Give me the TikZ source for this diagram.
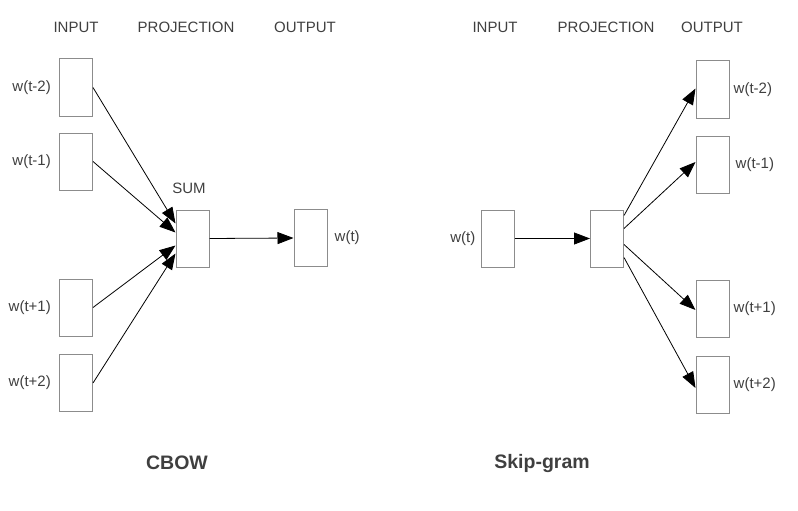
\documentclass[tikz,border=0pt]{standalone}
\usepackage{fontspec}
\setmainfont{Liberation Sans}
\usepackage{tikz}
\usetikzlibrary{arrows.meta,positioning,calc}
\definecolor{boxgray}{HTML}{8C8C8C}
\definecolor{textgray}{HTML}{3F3F3F}

\begin{document}
\begin{tikzpicture}[
  x=1pt,y=-1pt,
  every node/.style={font=\fontsize{15}{18}\selectfont,text=textgray},
  box/.style={draw=boxgray,line width=1pt,minimum width=33pt,minimum height=57pt,inner sep=0pt},
  lbl/.style={inner sep=2pt},
  title/.style={font=\bfseries\fontsize{19.5}{23}\selectfont},
  arrow/.style={-{Triangle[length=16pt,width=12pt]},line width=0.8pt,draw=black}
]
\useasboundingbox (0,0) rectangle (798,511);
% CBOW
\node (cinhead) at (76,27) {INPUT};
\node (cprojhead) at (186,27) {PROJECTION};
\node (couthead) at (305,27) {OUTPUT};
\node[box] (cin1) at (76,87.5) {};
\node[box] (cin2) at (76,161.5) {};
\node[box] (cin3) at (76,307.5) {};
\node[box] (cin4) at (76,383) {};
\node[lbl,left=6pt of cin1] (lcin1) {w(t-2)};
\node[lbl,left=6pt of cin2] (lcin2) {w(t-1)};
\node[lbl,left=6pt of cin3] (lcin3) {w(t+1)};
\node[lbl,left=6pt of cin4] (lcin4) {w(t+2)};
\node[box] (cproj) at (192.5,238.5) {};
\node (sum) at (189,188) {SUM};
\node[box] (cout) at (310.5,238) {};
\node[lbl,right=5pt of cout] (lcout) {w(t)};
\node[title] (cbow) at (177,463) {CBOW};
\draw[arrow] (cin1.east) -- ($(cproj.west)+(0,-15)$);
\draw[arrow] (cin2.east) -- ($(cproj.west)+(0,-6)$);
\draw[arrow] (cin3.east) -- ($(cproj.west)+(0,7)$);
\draw[arrow] (cin4.east) -- ($(cproj.west)+(0,15)$);
\draw[arrow] (cproj.east) -- (cout.west);
% Skip-gram
\node (sinhead) at (495,27) {INPUT};
\node (sprojhead) at (606,27) {PROJECTION};
\node (southead) at (712,27) {OUTPUT};
\node[box] (sin) at (497.5,238.5) {};
\node[lbl,left=3pt of sin] (lsin) {w(t)};
\node[box] (sproj) at (607,238.5) {};
\node[box] (sout1) at (712.5,89.5) {};
\node[box] (sout2) at (712.5,165) {};
\node[box] (sout3) at (712.5,309) {};
\node[box] (sout4) at (712.5,385) {};
\node[lbl,right=2pt of sout1] (lsout1) {w(t-2)};
\node[lbl,right=4pt of sout2] (lsout2) {w(t-1)};
\node[lbl,right=2pt of sout3] (lsout3) {w(t+1)};
\node[lbl,right=2pt of sout4] (lsout4) {w(t+2)};
\node[title] (skipgram) at (542,463) {Skip-gram};
\draw[arrow] (sin.east) -- (sproj.west);
\draw[arrow] ($(sproj.east)+(0,-23)$) -- ($(sout1.west)+(0,-1)$);
\draw[arrow] ($(sproj.east)+(0,-10)$) -- ($(sout2.west)+(0,-3)$);
\draw[arrow] ($(sproj.east)+(0,6)$) -- ($(sout3.west)+(0,1)$);
\draw[arrow] ($(sproj.east)+(0,19)$) -- ($(sout4.west)+(0,3)$);
\end{tikzpicture}
\end{document}
